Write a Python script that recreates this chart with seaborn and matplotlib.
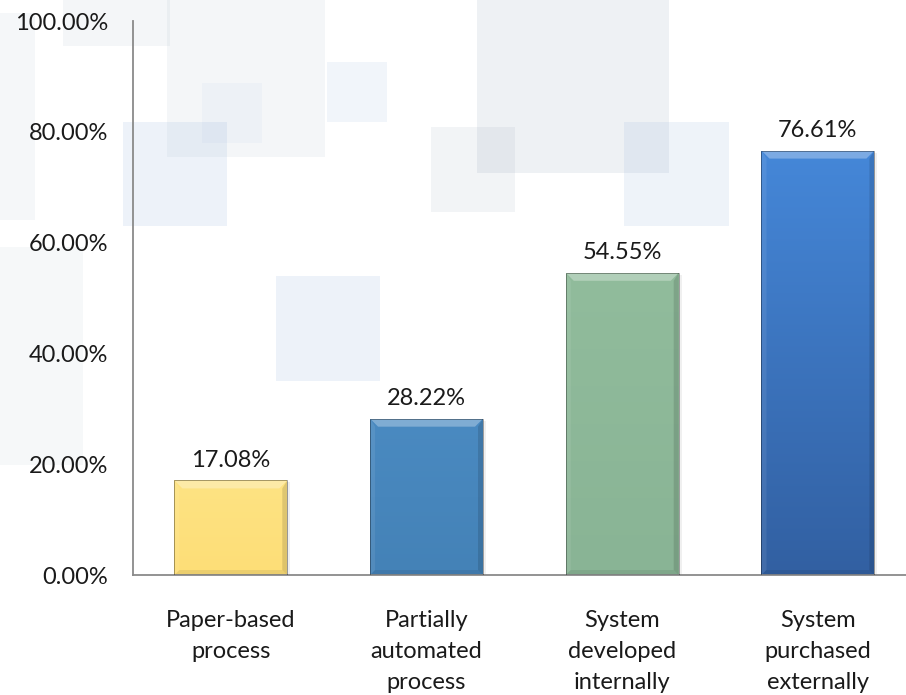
import matplotlib
matplotlib.use("Agg")
import numpy as np
import pandas as pd
import matplotlib.pyplot as plt
import seaborn as sns
from matplotlib.patches import Polygon, Rectangle
from matplotlib.colors import to_rgb

# ---- data -------------------------------------------------------------
categories = [
    "Paper-based\nprocess",
    "Partially\nautomated\nprocess",
    "System\ndeveloped\ninternally",
    "System\npurchased\nexternally",
]
shares = [17.08, 28.22, 54.55, 76.61]
y_ticks = [0, 20, 40, 60, 80, 100]

# bar fills: colour at the top and at the base of each bar
fill_top = ["#FEE383", "#4A8AC1", "#91BC9C", "#4587D8"]
fill_bottom = ["#FDDE77", "#4482B7", "#89B495", "#3260A2"]

df = pd.DataFrame({"category": categories, "share": shares})

# ---- style ------------------------------------------------------------
sns.set_theme(style="white")
plt.rcParams["font.family"] = ["Lato", "DejaVu Sans"]
FS = 17
TEXT = "#1a1a1a"

W, H = 906, 695
fig = plt.figure(figsize=(W / 100, H / 100), dpi=100)
fig.patch.set_facecolor("white")

# soft translucent panels in the backdrop (pixel boxes x0, y0, x1, y1)
GREY = (0.55, 0.62, 0.70)
BLUE = (0.55, 0.68, 0.86)
panels = [
    (63, 0, 170, 46, GREY, 0.09),
    (167, 0, 325, 157, GREY, 0.09),
    (202, 83, 262, 143, BLUE, 0.06),
    (123, 122, 227, 226, BLUE, 0.15),
    (327, 62, 387, 122, BLUE, 0.12),
    (0, 13, 35, 220, GREY, 0.08),
    (0, 247, 83, 465, GREY, 0.07),
    (276, 276, 380, 381, BLUE, 0.15),
    (431, 127, 515, 212, GREY, 0.11),
    (477, 0, 669, 173, GREY, 0.14),
    (624, 122, 729, 226, BLUE, 0.14),
]
for x0, y0, x1, y1, col, a in panels:
    fig.patches.append(Rectangle((x0 / W, 1 - y1 / H), (x1 - x0) / W, (y1 - y0) / H,
                                 transform=fig.transFigure, facecolor=col, alpha=a,
                                 edgecolor="none", zorder=-1))

# ---- axes -------------------------------------------------------------
left_px, right_px, top_px, bottom_px = 133, 906, 21, 575
ax = fig.add_axes([left_px / W, 1 - bottom_px / H,
                   (right_px - left_px) / W, (bottom_px - top_px) / H])
ax.patch.set_alpha(0)

sns.barplot(data=df, x="category", y="share", hue="category",
            palette=fill_top, width=0.577, legend=False, ax=ax,
            saturation=1, edgecolor="none")

XMIN, XMAX = -0.5, 3.45
ax.set_xlim(XMIN, XMAX)
ax.set_ylim(0, 100)

ax_w_px = right_px - left_px
ax_h_px = bottom_px - top_px
px_x = (XMAX - XMIN) / ax_w_px
px_y = 100 / ax_h_px

# gradient fill + bevel on each bar
bars = [p for c in ax.containers for p in c]
for i, p in enumerate(bars):
    x, w, h = p.get_x(), p.get_width(), p.get_height()
    top = np.array(to_rgb(fill_top[i]))
    bot = np.array(to_rgb(fill_bottom[i]))
    t = np.linspace(0, 1, 64)[:, None]
    grad = (bot * (1 - t) + top * t)[:, None, :]
    im = ax.imshow(grad, extent=[x, x + w, 0, h], origin="lower",
                   aspect="auto", zorder=2, interpolation="bilinear")
    im.set_clip_path(p)

    dx, dy = 8 * px_x, 8 * px_y
    sx, sy = 5 * px_x, 5 * px_y
    ax.add_patch(Polygon([(x, h), (x + w, h), (x + w - dx, h - dy), (x + dx, h - dy)],
                         closed=True, facecolor="white", alpha=0.30,
                         edgecolor="none", zorder=3))
    ax.add_patch(Polygon([(x, 0), (x, h), (x + sx, h - dy), (x + sx, sy)],
                         closed=True, facecolor="white", alpha=0.08,
                         edgecolor="none", zorder=3))
    ax.add_patch(Polygon([(x + w, 0), (x + w, h), (x + w - sx, h - dy), (x + w - sx, sy)],
                         closed=True, facecolor="black", alpha=0.12,
                         edgecolor="none", zorder=3))
    ax.add_patch(Polygon([(x, 0), (x + w, 0), (x + w - sx, sy), (x + sx, sy)],
                         closed=True, facecolor="black", alpha=0.07,
                         edgecolor="none", zorder=3))
    # thin dark rim
    ax.add_patch(Rectangle((x, 0), w, h, facecolor="none", edgecolor="black",
                           linewidth=0.7, alpha=0.35, zorder=4))
    # faint drop shadow to the right
    ax.add_patch(Rectangle((x + w, 0), 3 * px_x, h - 2 * px_y, facecolor="black",
                           edgecolor="none", alpha=0.06, zorder=1))

# value labels
for c, v in zip(ax.containers, shares):
    ax.bar_label(c, labels=[f"{v:.2f}%"], padding=7, fontsize=FS, color=TEXT)

# ticks
ax.set_yticks(y_ticks)
ax.set_yticklabels([f"{v:.2f}%" for v in y_ticks], fontsize=FS, color=TEXT)
ax.set_xticks(range(len(categories)))
ax.set_xticklabels(categories, fontsize=FS, color=TEXT, linespacing=1.6)
ax.tick_params(axis="y", length=0, pad=18)
ax.tick_params(axis="x", length=0, pad=25)
ax.set_xlabel("")
ax.set_ylabel("")

for side in ("top", "right"):
    ax.spines[side].set_visible(False)
for side in ("left", "bottom"):
    ax.spines[side].set_color("#8a8a8a")
    ax.spines[side].set_linewidth(1.3)
ax.spines["left"].set_zorder(6)

fig.savefig("out.png", dpi=100)
